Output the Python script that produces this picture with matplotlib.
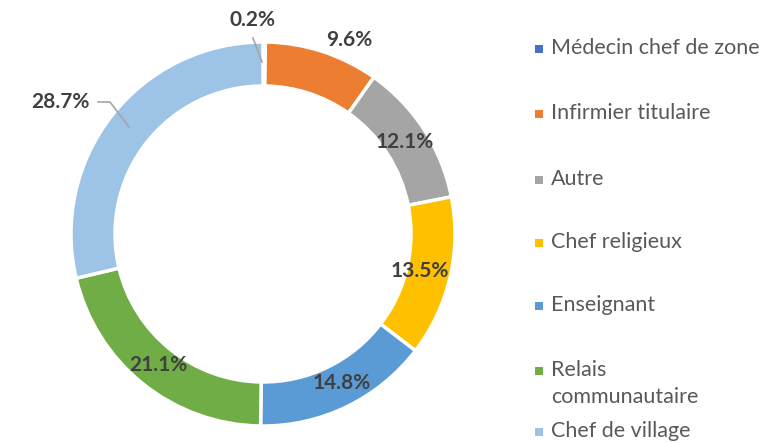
import numpy as np
import matplotlib.pyplot as plt
from matplotlib.patches import Rectangle

# data
categories = ['Médecin chef de zone', 'Infirmier titulaire', 'Autre', 'Chef religieux',
              'Enseignant', 'Relais\ncommunautaire', 'Chef de village']
values = [0.2, 9.6, 12.1, 13.5, 14.8, 21.1, 28.7]
colors = ['#4472C4', '#ED7D31', '#A5A5A5', '#FFC000', '#5B9BD5', '#70AD47', '#9DC3E6']

plt.rcParams['font.family'] = ['Lato', 'DejaVu Sans']

W, H = 770, 443
fig = plt.figure(figsize=(W / 100, H / 100), dpi=100)
ax = fig.add_axes([0, 0, 1, 1])
ax.set_xlim(0, W)
ax.set_ylim(0, H)
ax.set_aspect('equal')
ax.axis('off')

cx, cy = 263, H - 234
R, ring = 192, 44

wedges, _ = ax.pie(values, colors=colors, startangle=90, counterclock=False,
                   center=(cx, cy), radius=R,
                   wedgeprops=dict(width=ring, edgecolor='white', linewidth=2.5))
ax.set_xlim(0, W)
ax.set_ylim(0, H)

# label placement: (radius, angle offset) per slice, None = leader line label
label_pos = [None, (212, -6), (169, 0), (161, 0), (169, 2), (168, 0), None]
txt_kw = dict(fontsize=15, fontweight='bold', color='#404040', ha='center', va='center')
for w, v, pos in zip(wedges, values, label_pos):
    mid = np.deg2rad((w.theta1 + w.theta2) / 2)
    if pos is None:
        continue
    r, off = pos
    a = mid + np.deg2rad(off)
    ax.text(cx + r * np.cos(a), cy + r * np.sin(a), f'{v:.1f}%', **txt_kw)

# leader-line labels
line_kw = dict(color='#A6A6A6', lw=1.2)
ax.plot([262, 253], [H - 62, H - 38], **line_kw)
ax.text(252, H - 20, f'{values[0]:.1f}%', **txt_kw)
ax.plot([129, 110, 98], [H - 127, H - 102, H - 102], **line_kw)
ax.text(60, H - 102, f'{values[6]:.1f}%', **txt_kw)

# legend (text rows start at first line; marker sits on first line)
leg_y = [49, 114, 180, 243, 306, 371, 432]
for name, col, y in zip(categories, colors, leg_y):
    ax.add_patch(Rectangle((535, H - y - 4), 8, 8, color=col, lw=0))
    ax.text(551, H - y + 11, name, fontsize=15.5, color='#595959', va='top', ha='left',
            linespacing=1.45)

fig.savefig('out.png', dpi=100)
